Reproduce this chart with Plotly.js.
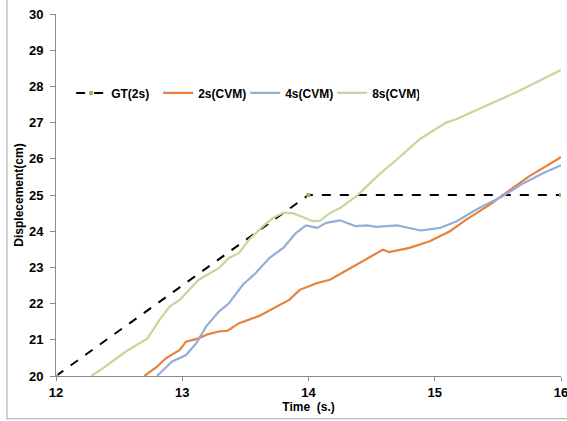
<!DOCTYPE html>
<html>
<head>
<meta charset="utf-8">
<script src="https://cdn.plot.ly/plotly-3.0.1.min.js"></script>
<style>html,body{margin:0;padding:0;background:#fff}#chart{width:567px;height:421px}</style>
</head>
<body>
<div id="chart"></div>
<script>
const gtX = [12, 14, 16];
const gtY = [20, 25, 25];

const cvm2X = [12.70, 12.80, 12.87, 12.98, 13.03, 13.13, 13.20, 13.29, 13.36, 13.45, 13.61, 13.72, 13.85, 13.93, 14.07, 14.17, 14.33, 14.46, 14.59, 14.64, 14.80, 14.96, 15.12, 15.25, 15.44, 15.60, 15.75, 15.97, 16.0];
const cvm2Y = [20.0, 20.26, 20.49, 20.72, 20.95, 21.04, 21.15, 21.23, 21.25, 21.46, 21.66, 21.86, 22.11, 22.38, 22.57, 22.66, 22.98, 23.23, 23.49, 23.42, 23.54, 23.72, 24.00, 24.32, 24.74, 25.15, 25.52, 25.98, 26.05];

const cvm4X = [12.80, 12.92, 13.03, 13.11, 13.19, 13.29, 13.37, 13.48, 13.58, 13.69, 13.80, 13.90, 13.98, 14.07, 14.14, 14.25, 14.37, 14.46, 14.54, 14.70, 14.89, 15.04, 15.17, 15.33, 15.54, 15.70, 15.86, 16.0];
const cvm4Y = [20.0, 20.40, 20.58, 20.90, 21.37, 21.78, 22.01, 22.52, 22.84, 23.26, 23.54, 23.95, 24.16, 24.09, 24.23, 24.30, 24.14, 24.16, 24.12, 24.16, 24.02, 24.09, 24.27, 24.60, 24.97, 25.32, 25.61, 25.82];

const cvm8X = [12.28, 12.39, 12.55, 12.725, 12.82, 12.90, 12.98, 13.13, 13.29, 13.37, 13.45, 13.53, 13.64, 13.72, 13.80, 13.88, 13.95, 14.03, 14.09, 14.17, 14.25, 14.38, 14.56, 14.70, 14.88, 15.09, 15.17, 15.41, 15.67, 16.0];
const cvm8Y = [20.0, 20.26, 20.67, 21.04, 21.55, 21.92, 22.10, 22.66, 22.98, 23.26, 23.40, 23.77, 24.14, 24.37, 24.51, 24.49, 24.40, 24.28, 24.29, 24.50, 24.64, 24.97, 25.57, 25.98, 26.54, 27.00, 27.09, 27.46, 27.88, 28.45];

const xTicks = [12, 13, 14, 15, 16];
const yTicks = [20, 21, 22, 23, 24, 25, 26, 27, 28, 29, 30];

const FONT = 'Liberation Sans, Arial, sans-serif';

const traces = [
  {x: gtX, y: gtY, name: 'GT(2s)', mode: 'lines+markers',
   line: {color: '#000000', width: 2, dash: 'dash'},
   marker: {color: '#9BBB59', size: 4, symbol: 'square'}},
  {x: cvm2X, y: cvm2Y, name: '2s(CVM)', mode: 'lines',
   line: {color: '#E8813A', width: 2.2}},
  {x: cvm4X, y: cvm4Y, name: '4s(CVM)', mode: 'lines',
   line: {color: '#93AED8', width: 2.2}},
  {x: cvm8X, y: cvm8Y, name: '8s(CVM)', mode: 'lines',
   line: {color: '#C3D89A', width: 2.2}}
];

const layout = {
  width: 567, height: 421,
  margin: {l: 56, r: 6, t: 14, b: 45},
  paper_bgcolor: '#ffffff', plot_bgcolor: '#ffffff',
  font: {family: FONT, size: 12, color: '#000'},
  showlegend: true,
  legend: {orientation: 'h', x: 0.03, y: 0.782, xanchor: 'left', yanchor: 'middle',
           font: {family: FONT, size: 12, color: '#000', weight: 'bold'},
           bgcolor: 'rgba(0,0,0,0)', itemwidth: 30, tracegroupgap: 0,
           entrywidth: 42, entrywidthmode: 'pixels'},
  xaxis: {
    range: [12, 16], tickvals: xTicks, ticktext: xTicks.map(String),
    showgrid: false, zeroline: false, showline: true, linecolor: '#8c8c8c', linewidth: 1,
    ticks: 'outside', ticklen: 4, tickcolor: '#8c8c8c', ticklabeloverflow: 'allow',
    tickfont: {family: FONT, size: 13, weight: 'bold'},
    title: {text: 'Time  (s.)', font: {family: FONT, size: 12, weight: 'bold'}, standoff: 0}
  },
  yaxis: {
    range: [20, 30], tickvals: yTicks, ticktext: yTicks.map(String),
    showgrid: false, zeroline: false, showline: true, linecolor: '#8c8c8c', linewidth: 1,
    ticks: 'outside', ticklen: 5, tickcolor: '#8c8c8c', ticklabelstandoff: 4,
    tickfont: {family: FONT, size: 13, weight: 'bold'},
    title: {text: 'Displecement(cm)', font: {family: FONT, size: 12, weight: 'bold'}, standoff: 2}
  },
  shapes: [
    {type: 'line', xref: 'paper', yref: 'paper', x0: -0.097, x1: -0.097, y0: -0.12, y1: 1.04,
     line: {color: '#a6a6a6', width: 1}},
    {type: 'line', xref: 'paper', yref: 'paper', x0: -0.097, x1: 1.02, y0: -0.118, y1: -0.118,
     line: {color: '#a6a6a6', width: 1}}
  ]
};

Plotly.newPlot('chart', traces, layout, {displayModeBar: false, staticPlot: true});
</script>
</body>
</html>
